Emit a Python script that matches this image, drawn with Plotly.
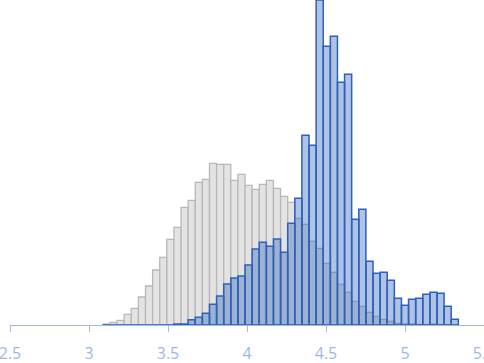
import plotly.graph_objects as go

bin_width = 0.045
bin_centers = [3.11, 3.155, 3.2, 3.245, 3.29, 3.335, 3.38, 3.425, 3.47, 3.515,
               3.56, 3.605, 3.65, 3.695, 3.74, 3.785, 3.83, 3.875, 3.92, 3.965,
               4.01, 4.055, 4.1, 4.145, 4.19, 4.235, 4.28, 4.325, 4.37, 4.415,
               4.46, 4.505, 4.55, 4.595, 4.64, 4.685, 4.73, 4.775, 4.82, 4.865,
               4.91, 4.955, 5.0, 5.045, 5.09, 5.135, 5.18, 5.225, 5.27, 5.315]

gray_values = [1, 2.7, 4.7, 10.7, 16.7, 28, 39, 55, 67.7, 85.7,
               97.7, 117.7, 124.7, 142.7, 145.7, 161.7, 160.7, 160.7, 144.7, 150.7,
               139.7, 135.7, 140.7, 144.7, 136.7, 128.7, 122.7, 106.7, 100.7, 83.7,
               76.7, 61.7, 52.7, 40.7, 32.7, 23.7, 18.7, 12.7, 8.7, 5.7,
               3.7, 1.7, 1, 1, 0.5, 0.5, 1, 0.5, 0, 0]

blue_values = [0, 0, 0, 0, 0, 0, 0, 0, 0, 0,
               1, 1, 5.3, 7.7, 11.7, 20.7, 29, 41, 47, 49,
               60, 76, 82.7, 78.7, 86, 72.7, 101.7, 126.7, 189.7, 179.7,
               325, 278.7, 288.7, 242.7, 250.7, 105.7, 115.7, 63.7, 51.7, 52.7,
               44.7, 26.7, 19.7, 25.7, 26.7, 30.7, 32.7, 31.7, 18.7, 5.7]

tick_vals = [2.5, 3, 3.5, 4, 4.5, 5, 5.5]
tick_text = ["2.5", "3", "3.5", "4", "4.5", "5", "5.5"]

fig = go.Figure()
fig.add_trace(go.Bar(
    x=bin_centers, y=gray_values, width=bin_width,
    marker=dict(color="rgb(227,227,227)", line=dict(color="rgb(184,184,184)", width=1.3)),
    showlegend=False, hoverinfo="skip",
))
fig.add_trace(go.Bar(
    x=bin_centers, y=blue_values, width=bin_width,
    marker=dict(color="rgba(34,90,180,0.36)", line=dict(color="rgb(46,96,190)", width=1.5)),
    showlegend=False, hoverinfo="skip",
))

fig.update_layout(
    barmode="overlay",
    width=484, height=363,
    margin=dict(l=10, r=0, t=0, b=38, autoexpand=False),
    paper_bgcolor="white", plot_bgcolor="white",
    xaxis=dict(
        range=[2.5, 5.5], tickvals=tick_vals, ticktext=tick_text,
        showgrid=False, zeroline=False, automargin=False,
        showline=True, linecolor="rgb(160,184,224)", linewidth=1.3,
        ticks="outside", ticklen=6, tickcolor="rgb(160,184,224)", tickwidth=1,
        tickfont=dict(family="Open Sans", size=16, color="rgb(160,184,228)"),
        ticklabeloverflow="allow", ticklabelstandoff=8,
    ),
    yaxis=dict(range=[0, 325], visible=False, showgrid=False, zeroline=False),
)

fig.write_html("out.html")
